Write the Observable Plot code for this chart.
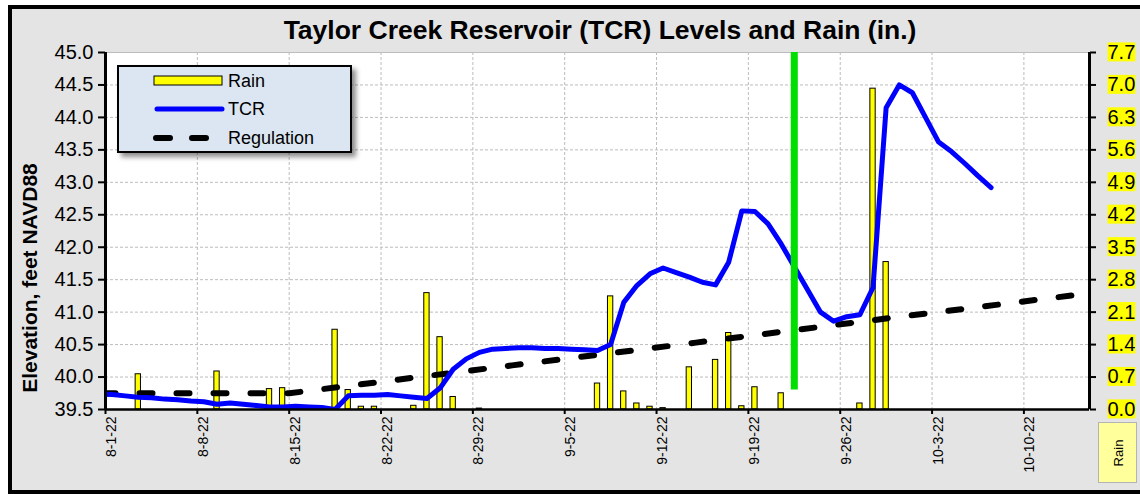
<!DOCTYPE html>
<html><head><meta charset="utf-8">
<script src="https://cdn.jsdelivr.net/npm/d3@7"></script>
<script src="https://cdn.jsdelivr.net/npm/@observablehq/plot@0.6"></script>
<style>
body{margin:0;width:1140px;height:494px;overflow:hidden;background:#fff;font-family:"Liberation Sans",Arial,sans-serif;position:relative}
#frame{position:absolute;left:8px;top:5px;width:1140px;height:481px;border:4px solid #000;background:#e4e4e4}
#chart{position:absolute;left:0;top:0}
#title{position:absolute;left:0;width:1200px;top:15px;text-align:center;font-weight:bold;font-size:26.5px;line-height:30px;white-space:nowrap}
#ylabel{position:absolute;left:29px;top:278px;transform:translate(-50%,-50%) rotate(-90deg);font-weight:bold;font-size:21px;line-height:21px;white-space:nowrap}
#legend{position:absolute;left:117px;top:65px;width:231px;height:84px;border:2px solid #000;background:#dce6f2;box-shadow:4px 4px 5px rgba(0,0,0,0.45)}
#legend svg{position:absolute;left:0;top:0}
#rainbox{position:absolute;left:1098px;top:422px;width:37px;height:59px;background:#ffff9c;border:1px solid #b4b4b4}
#rainbox span{position:absolute;left:50%;top:50%;transform:translate(-50%,-50%) rotate(-90deg);font-size:13px}
</style></head>
<body>
<div id="frame"></div>
<div id="chart"></div>
<div id="title">Taylor Creek Reservoir (TCR) Levels and Rain (in.)</div>
<div id="ylabel">Elevation, feet NAVD88</div>
<div id="legend"><svg width="231" height="84">
<rect x="35" y="9" width="68" height="9" fill="#ffff00" stroke="#000" stroke-width="1"/>
<text x="109" y="20" font-size="18">Rain</text>
<line x1="38" y1="42" x2="103" y2="42" stroke="#0000ff" stroke-width="5" stroke-linecap="round"/>
<text x="109" y="48" font-size="18">TCR</text>
<line x1="37" y1="71" x2="104" y2="71" stroke="#000" stroke-width="6" stroke-linecap="round" stroke-dasharray="14,22"/>
<text x="109" y="77" font-size="18">Regulation</text>
</svg></div>
<div id="rainbox"><span>Rain</span></div>
<script>
// ---- data ----
const tcrDates = ["2022-07-31","2022-08-01","2022-08-02","2022-08-03","2022-08-04","2022-08-05","2022-08-06","2022-08-07","2022-08-08","2022-08-09","2022-08-10","2022-08-11","2022-08-12","2022-08-13","2022-08-14","2022-08-15","2022-08-16","2022-08-17","2022-08-18","2022-08-19","2022-08-20","2022-08-21","2022-08-22","2022-08-23","2022-08-24","2022-08-25","2022-08-26","2022-08-27","2022-08-28","2022-08-29","2022-08-30","2022-08-31","2022-09-01","2022-09-02","2022-09-03","2022-09-04","2022-09-05","2022-09-06","2022-09-07","2022-09-08","2022-09-09","2022-09-10","2022-09-11","2022-09-12","2022-09-13","2022-09-14","2022-09-15","2022-09-16","2022-09-17","2022-09-18","2022-09-19","2022-09-20","2022-09-21","2022-09-22","2022-09-23","2022-09-24","2022-09-25","2022-09-26","2022-09-27","2022-09-28","2022-09-29","2022-09-30","2022-10-01","2022-10-02","2022-10-03","2022-10-04","2022-10-05","2022-10-06","2022-10-07"];
const tcrLevels = [39.74,39.73,39.71,39.69,39.68,39.66,39.65,39.63,39.62,39.58,39.60,39.58,39.56,39.54,39.54,39.55,39.54,39.53,39.50,39.71,39.72,39.72,39.73,39.71,39.69,39.67,39.83,40.12,40.28,40.38,40.43,40.44,40.45,40.45,40.44,40.44,40.43,40.42,40.41,40.50,41.15,41.41,41.59,41.68,41.61,41.54,41.46,41.42,41.77,42.56,42.55,42.36,42.05,41.70,41.35,41.00,40.86,40.93,40.96,41.38,44.15,44.50,44.38,44.00,43.62,43.47,43.29,43.10,42.92];

const rainDates = ["2022-08-03","2022-08-09","2022-08-13","2022-08-14","2022-08-18","2022-08-19","2022-08-20","2022-08-21","2022-08-24","2022-08-25","2022-08-26","2022-08-27","2022-08-29","2022-09-07","2022-09-08","2022-09-09","2022-09-10","2022-09-11","2022-09-12","2022-09-14","2022-09-16","2022-09-17","2022-09-18","2022-09-19","2022-09-21","2022-09-27","2022-09-28","2022-09-29"];
const rainInches = [0.76,0.82,0.44,0.46,1.72,0.42,0.06,0.06,0.08,2.51,1.56,0.27,0.02,0.56,2.44,0.39,0.13,0.06,0.03,0.91,1.07,1.65,0.07,0.48,0.35,0.13,6.92,3.18];

const regDates = ["2022-08-01","2022-08-15","2022-09-01","2022-09-15","2022-10-01","2022-10-15"];
const regLevels = [39.75,39.75,40.18,40.53,40.94,41.29];

const markerDates = ["2022-09-22"];
const markerRange = [39.8, 45.0];

const xTickDates = ["2022-08-01","2022-08-08","2022-08-15","2022-08-22","2022-08-29","2022-09-05","2022-09-12","2022-09-19","2022-09-26","2022-10-03","2022-10-10"];
const elevTicks = [39.5,40.0,40.5,41.0,41.5,42.0,42.5,43.0,43.5,44.0,44.5,45.0];
const rainTicks = [0.0,0.7,1.4,2.1,2.8,3.5,4.2,4.9,5.6,6.3,7.0,7.7];
const xDomain = ["2022-08-01","2022-10-15"];

// ---- build ----
const parse = d3.utcParse("%Y-%m-%d");
const noon = s => d3.utcHour.offset(parse(s), 12);
const elevMin = elevTicks[0], elevMax = elevTicks[elevTicks.length-1];
const rainMax = rainTicks[rainTicks.length-1];
const rainToElev = r => elevMin + r * (elevMax - elevMin) / rainMax;
const elevToRain = e => (e - elevMin) * rainMax / (elevMax - elevMin);

const tcr = tcrDates.map((d, i) => ({date: noon(d), level: tcrLevels[i]}));
const rain = rainDates.map((d, i) => ({start: parse(d), end: d3.utcDay.offset(parse(d), 1), value: rainInches[i]}));
const reg = regDates.map((d, i) => ({date: parse(d), level: regLevels[i]}));
const markers = markerDates.map(d => ({date: noon(d)}));
const xTicks = xTickDates.map(parse);
const x0 = parse(xDomain[0]), x1 = parse(xDomain[1]);

const chart = Plot.plot({
  width: 1140, height: 494,
  marginLeft: 105, marginRight: 51, marginTop: 52, marginBottom: 85,
  style: {background: "transparent", fontFamily: "'Liberation Sans', Arial, sans-serif", fontSize: "20px", color: "#000", overflow: "visible"},
  x: {type: "utc", domain: [x0, x1]},
  y: {domain: [elevMin, elevMax]},
  marks: [
    Plot.frame({fill: "#fff", stroke: "#bdbdbd"}),
    Plot.gridX(xTicks, {stroke: "#bcbcbc", strokeOpacity: 1, strokeDasharray: "3,2"}),
    Plot.gridY(elevTicks, {stroke: "#bcbcbc", strokeOpacity: 1, strokeDasharray: "3,2"}),
    Plot.rect(rain, {x1: "start", x2: "end", y1: elevMin, y2: d => rainToElev(d.value), insetLeft: 3.9, insetRight: 3.9, fill: "#ffff00", stroke: "#000", strokeWidth: 1}),
    Plot.line(reg, {x: "date", y: "level", stroke: "#000", strokeWidth: 6, strokeDasharray: "13,24", strokeDashoffset: 3, strokeLinecap: "round", clip: true}),
    Plot.line(tcr, {x: "date", y: "level", stroke: "#0000ff", strokeWidth: 5, strokeLinejoin: "round", strokeLinecap: "round", clip: true}),
    Plot.ruleX(markers, {x: "date", y1: markerRange[0], y2: markerRange[1], stroke: "#00e000", strokeWidth: 7}),
    Plot.axisY(elevTicks, {anchor: "left", tickFormat: d3.format(".1f"), tickSize: 7, tickPadding: 5, fontSize: 20, strokeWidth: 2, label: null}),
    Plot.axisY(rainTicks.map(rainToElev), {anchor: "right", tickFormat: v => elevToRain(v).toFixed(1), tickSize: 6, tickPadding: 12, fontSize: 20, strokeWidth: 2, label: null}),
    Plot.axisX(xTicks, {anchor: "bottom", tickFormat: d => `${d.getUTCMonth()+1}-${d.getUTCDate()}-22`, tickRotate: -90, tickSize: 5, tickPadding: 2, fontSize: 14, strokeWidth: 2, label: null}),
    Plot.ruleX([x0], {stroke: "#000", strokeWidth: 3}),
    Plot.ruleX([x1], {stroke: "#000", strokeWidth: 3}),
    Plot.ruleY([elevMin], {stroke: "#000", strokeWidth: 2.5})
  ]
});
document.getElementById("chart").append(chart);

// shift rotated x-axis labels to sit just right of their ticks
const xg = chart.querySelector('g[aria-label="x-axis tick label"]');
if (xg) xg.setAttribute("transform", `${xg.getAttribute("transform") || ""} translate(6,0)`);

// yellow highlight behind right-axis labels
const groups = chart.querySelectorAll('g[aria-label="y-axis tick label"]');
const rg = groups[groups.length - 1];
rg.querySelectorAll("text").forEach(t => {
  const b = t.getBBox();
  const r = document.createElementNS("http://www.w3.org/2000/svg", "rect");
  r.setAttribute("x", b.x);
  r.setAttribute("y", b.y + 1.5);
  r.setAttribute("width", b.width);
  r.setAttribute("height", b.height - 3);
  if (t.getAttribute("transform")) r.setAttribute("transform", t.getAttribute("transform"));
  r.setAttribute("fill", "#ffff00");
  r.setAttribute("stroke", "none");
  t.parentNode.insertBefore(r, t);
});
</script>
</body></html>
